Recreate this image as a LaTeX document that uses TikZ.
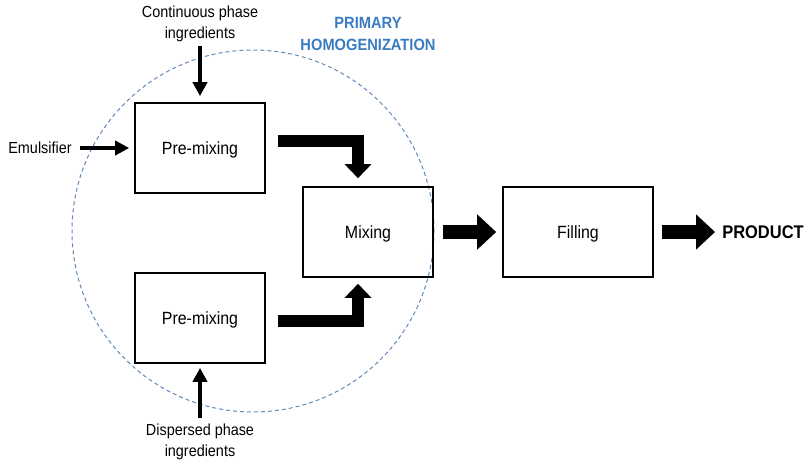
\documentclass[tikz,border=0pt]{standalone}
\usepackage{fontspec}
\setmainfont[FakeStretch=0.9]{Liberation Sans}
\usetikzlibrary{arrows.meta,positioning}
\definecolor{zoneblue}{RGB}{96,138,184}
\definecolor{titleblue}{RGB}{58,124,192}

\begin{document}
\begin{tikzpicture}[x=1pt,y=1pt,node distance=100pt,on grid,
    every node/.style={font=\fontsize{16}{21}\selectfont}]
  \tikzstyle{procbox}=[rectangle,draw=black,line width=1.6pt,minimum width=130pt,minimum height=90pt,text depth=0pt,font=\fontsize{17.7}{20}\selectfont]
  \tikzstyle{inlabel}=[align=center,inner sep=1pt]
  \tikzstyle{thinarrow}=[line width=4pt,-{Triangle[length=14pt,width=14pt]}]
  \tikzstyle{elbowarrow}=[line width=12pt,line join=miter,-{Triangle[length=14pt,width=26pt]}]
  \tikzstyle{flowarrow}=[line width=14pt,-{Triangle[length=19pt,width=34pt]}]

  \useasboundingbox (0,0) rectangle (809,-464);

  \node[circle,draw=zoneblue,line width=1pt,dash pattern=on 4pt off 3pt,minimum size=362pt] (zone) at (253,-231) {};

  \node[procbox]            (pm_1) at (200,-148)                     {Pre-mixing};
  \node[procbox]            (pm_2) [below=170pt of pm_1]             {Pre-mixing};
  \node[procbox]            (mix)  [below right=84pt and 168pt of pm_1] {Mixing};
  \node[procbox,minimum width=150pt] (fill) [right=210pt of mix]     {Filling};
  \node[inlabel,font=\fontsize{18.3}{20}\selectfont\bfseries] (prod) [right=185pt of fill] {PRODUCT};

  \node[inlabel]            (emul) [left=160pt of pm_1]              {Emulsifier};
  \node[inlabel]            (cont) [above=124pt of pm_1]             {Continuous phase\\ingredients};
  \node[inlabel]            (disp) [below=124pt of pm_2]             {Dispersed phase\\ingredients};
  \node[inlabel,text=titleblue,font=\fontsize{16.3}{22}\selectfont\bfseries] (title) [above=198pt of mix] {PRIMARY\\HOMOGENIZATION};

  \draw[thinarrow,shorten <=7pt,shorten >=5pt] (emul.east) -- (pm_1.west);
  \draw[thinarrow,shorten <=3pt,shorten >=6pt] (cont.south) -- (pm_1.north);
  \draw[thinarrow,shorten <=5pt,shorten >=4pt] (disp.north) -- (pm_2.south);

  \draw[elbowarrow,shorten <=12pt,shorten >=8pt] ([yshift=7pt]pm_1.east) -| ([xshift=-10pt]mix.north);
  \draw[elbowarrow,shorten <=12pt,shorten >=6pt] ([yshift=-3pt]pm_2.east) -| ([xshift=-10pt]mix.south);

  \draw[flowarrow,shorten <=9pt,shorten >=6pt] (mix.east) -- (fill.west);
  \draw[flowarrow,shorten <=8pt,shorten >=6pt] (fill.east) -- (prod.west);
\end{tikzpicture}
\end{document}
